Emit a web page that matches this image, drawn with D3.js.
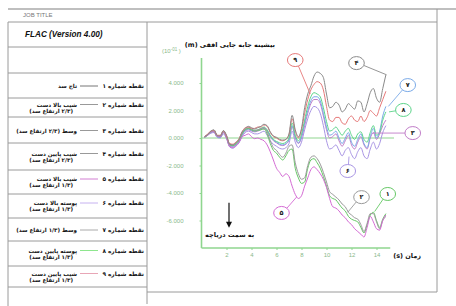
<!DOCTYPE html>
<html><head><meta charset="utf-8">
<script src="https://cdn.jsdelivr.net/npm/d3@7"></script>
<style>body{margin:0;background:#fff}svg{display:block}</style>
</head><body><svg id="c" width="456" height="306"></svg>
<script>
// ---------------- DATA ----------------
const times = [0.25,0.5,0.75,1,1.25,1.5,1.75,2,2.25,2.5,2.75,3,3.25,3.5,3.75,4,4.25,4.5,4.75,5,
  5.25,5.5,5.75,6,6.25,6.5,6.75,7,7.25,7.5,7.75,8,8.25,8.5,8.75,9,9.25,9.5,9.75,10,
  10.25,10.5,10.75,11,11.25,11.5,11.75,12,12.25,12.5,12.75,13,13.25,13.5,13.75,14,14.25,14.5,14.75];

const s1 = [0.1,0.25,0.45,0.55,0.15,0.1,0.5,0.1,-0.5,-0.55,
  -0.4,-0.15,0.35,0.6,0.7,0.6,0.5,0.55,0.6,0.65,
  0.3,-0.4,-0.9,-1.1,-1.4,-1.6,-1.3,-0.9,-0.8,-2.2,
  -2.9,-3.3,-3.2,-2.2,-1.6,-1.5,-1.8,-2.2,-2.8,-3.5,
  -4.2,-4.4,-4.5,-4.8,-5.1,-5.3,-5.7,-5.9,-6.0,-6.1,
  -6.5,-6.9,-6.3,-5.6,-5.4,-6.0,-6.5,-5.9,-5.5];
const s2 = [0.1,0.25,0.5,0.55,0.15,0.1,0.5,0.15,-0.45,-0.5,
  -0.35,-0.1,0.4,0.65,0.75,0.65,0.55,0.6,0.65,0.75,
  0.45,-0.2,-0.7,-0.9,-1.2,-1.4,-1.1,-0.6,-0.5,-1.8,
  -2.6,-3.0,-2.9,-2.0,-1.4,-1.3,-1.5,-1.9,-2.5,-3.2,
  -3.9,-4.1,-4.3,-4.5,-4.8,-5.0,-5.4,-5.6,-5.8,-5.9,
  -6.3,-6.8,-6.2,-5.5,-5.5,-6.1,-6.6,-6.0,-5.7];
const s3 = [0.05,0.2,0.4,0.45,0.1,0.05,0.4,0.0,-0.6,-0.65,
  -0.5,-0.3,0.2,0.5,0.6,0.5,0.45,0.5,0.6,0.7,
  0.5,0.1,-0.2,-0.35,-0.5,-0.55,-0.45,-0.15,0.8,0.0,
  -0.4,0.0,0.9,1.8,2.5,2.8,2.8,2.5,1.6,0.6,
  0.0,0.1,0.3,-0.2,-0.6,-0.2,0.2,-0.5,-0.8,-0.3,
  0.1,-0.5,-0.8,0.0,0.4,-0.1,0.3,0.9,1.3];
const s4 = [0.1,0.25,0.5,0.6,0.2,0.15,0.55,0.2,-0.45,-0.5,
  -0.35,-0.1,0.45,0.7,0.85,0.75,0.65,0.75,0.85,1.0,
  0.9,0.45,0.15,0.05,-0.1,-0.15,-0.1,0.3,1.65,0.6,
  0.1,0.7,2.2,3.2,3.8,4.5,4.8,4.7,4.4,3.2,
  2.2,2.3,2.6,2.4,1.9,2.1,2.5,2.3,2.1,2.7,
  2.6,1.9,2.5,3.3,3.6,2.9,2.6,3.6,4.6];
const s5 = [0.1,0.2,0.45,0.5,0.15,0.1,0.45,0.05,-0.6,-0.7,
  -0.55,-0.3,0.1,0.2,0.3,0.1,-0.05,0.0,-0.1,-0.2,
  -0.5,-1.0,-1.6,-2.2,-2.5,-2.8,-2.6,-2.8,-3.5,-4.1,
  -4.4,-4.2,-3.5,-2.9,-2.3,-2.1,-2.3,-2.6,-3.0,-3.6,
  -4.4,-5.0,-5.1,-5.3,-5.6,-5.8,-6.1,-6.3,-6.6,-6.8,
  -7.0,-7.2,-6.5,-5.7,-6.1,-6.6,-6.7,-6.0,-5.6];
const s6 = [0.05,0.2,0.35,0.4,0.05,0.0,0.3,-0.05,-0.65,-0.75,
  -0.6,-0.35,0.1,0.4,0.5,0.4,0.3,0.3,0.4,0.5,
  0.2,-0.2,-0.45,-0.6,-0.75,-0.8,-0.7,-0.4,0.5,-0.3,
  -0.7,-0.3,0.6,1.4,2.0,2.3,2.2,1.8,0.9,-0.2,
  -0.8,-0.7,-0.5,-0.9,-1.3,-0.9,-0.7,-1.2,-1.5,-1.0,
  -0.7,-1.3,-1.5,-0.8,-0.3,-0.8,-0.4,0.4,0.9];
const s7 = [0.1,0.25,0.4,0.5,0.1,0.05,0.4,0.05,-0.55,-0.6,
  -0.5,-0.25,0.25,0.55,0.65,0.55,0.5,0.55,0.65,0.75,
  0.55,0.15,-0.15,-0.3,-0.45,-0.5,-0.4,-0.1,0.9,0.1,
  -0.35,0.1,1.1,2.0,2.7,3.0,3.0,2.7,1.8,0.8,
  0.2,0.3,0.5,0.0,-0.4,0.0,0.4,-0.3,-0.6,-0.1,
  0.3,-0.4,-0.7,0.1,0.7,0.0,0.5,1.6,2.3];
const s8 = [0.05,0.2,0.45,0.5,0.15,0.1,0.45,0.1,-0.5,-0.55,
  -0.45,-0.2,0.3,0.6,0.7,0.6,0.55,0.6,0.7,0.8,
  0.6,0.2,-0.1,-0.25,-0.35,-0.4,-0.3,0.0,1.1,0.2,
  -0.2,0.3,1.3,2.3,3.0,3.3,3.2,3.0,2.2,1.2,
  0.5,0.6,0.8,0.5,0.2,0.5,0.7,0.2,-0.1,0.3,
  0.45,-0.1,-0.3,0.4,0.9,0.2,0.4,1.3,1.9];
const s9 = [0.1,0.3,0.5,0.55,0.2,0.2,0.5,0.15,-0.4,-0.45,
  -0.3,-0.05,0.45,0.75,0.8,0.7,0.7,0.8,0.8,0.95,
  0.85,0.4,0.1,0.0,-0.15,-0.2,-0.1,0.25,1.4,0.5,
  0.0,0.6,1.8,2.8,3.5,3.9,4.1,4.0,3.5,2.3,
  1.3,1.2,1.5,1.5,1.1,1.0,1.4,1.6,1.3,1.2,
  1.6,1.2,1.5,2.0,1.8,1.6,2.2,2.8,3.4];

const seriesIds = ["6","3","7","8","1","2","5","9","4"]; // drawing order
const seriesValues = {"1":s1,"2":s2,"3":s3,"4":s4,"5":s5,"6":s6,"7":s7,"8":s8,"9":s9};
const seriesColors = {"1":"#66c866","2":"#9a9a9a","3":"#c07cc8","4":"#8a8a8a","5":"#d46ad4",
  "6":"#a894e4","7":"#7aaae8","8":"#5cd48a","9":"#e67878"};

const yTicks = [4,2,0,-2,-4,-6];
const yTickLabels = ["4.000","2.000","0.000","-2.000","-4.000","-6.000"];
const xTicks = [2,4,6,8,10,12,14];
const xTickLabels = ["2","4","6","8","10","12","14"];

const persianDigits = ["۱","۲","۳","۴","۵","۶","۷","۸","۹"];
const legendDesc1 = ["تاج سد","شیب بالا دست","وسط (۲/۳ ارتفاع سد)","شیب پایین دست","شیب بالا دست",
  "پوسته بالا دست","وسط (۱/۳ ارتفاع سد)","پوسته پایین دست","شیب پایین دست"];
const legendDesc2 = ["","(۲/۳ ارتفاع سد)","","(۲/۳ ارتفاع سد)","(۱/۳ ارتفاع سد)",
  "(۱/۳ ارتفاع سد)","","(۱/۳ ارتفاع سد)","(۱/۳ ارتفاع سد)"];
const legendSwatch = ["#777","#999","#999","#999","#d27ed2","#c6b2f0","#aaa","#8ee68e","#e8a6b6"];

// annotation callouts (series id, label position, leader tip) in data units
const annoSeries = ["9","4","7","8","3","6","5","2","1"];
const annoLabelT = [7.5,12.4,16.5,16.15,16.9,11.7,6.4,12.8,14.9];
const annoLabelV = [5.67,5.45,3.85,2.04,0.36,-2.4,-5.45,-4.3,-4.07];
const annoTipT = [8.7,14.8,14.95,15.0,13.7,11.8,7.6,11.7,13.85];
const annoTipV = [3.2,4.6,2.3,1.9,0.36,-1.35,-4.3,-5.4,-5.35];

// ---------------- DRAW ----------------
const svg = d3.select("#c");
svg.append("rect").attr("width",456).attr("height",306).attr("fill","#fff");
const FA = "'DejaVu Sans', sans-serif";

function rtlText(g, str, xRight, y, size, weight, fill) {
  const t = g.append("text").attr("direction","rtl").attr("text-anchor","middle")
    .attr("y", y).attr("font-family", FA).attr("font-size", size)
    .attr("font-weight", weight || "normal").attr("fill", fill || "#111").text(str);
  const w = t.node().getComputedTextLength();
  t.attr("x", xRight - w/2);
  return t;
}

// frame
const frame = svg.append("g").attr("stroke","#9a9a9a").attr("fill","none");
frame.append("line").attr("x1",8).attr("x2",456).attr("y1",9).attr("y2",9).attr("stroke-width",1.6).attr("stroke","#aaa");
frame.append("line").attr("x1",8).attr("x2",437).attr("y1",22).attr("y2",22);
frame.append("line").attr("x1",8).attr("x2",8).attr("y1",22).attr("y2",306);
frame.append("line").attr("x1",147).attr("x2",147).attr("y1",22).attr("y2",304);
frame.append("line").attr("x1",437).attr("x2",437).attr("y1",9).attr("y2",292);
frame.append("line").attr("x1",147).attr("x2",437).attr("y1",292).attr("y2",292);
const rowLines = [47,73,98,117,143,170,194,218,241,266,287];
rowLines.forEach(y => frame.append("line").attr("x1",8).attr("x2",147).attr("y1",y).attr("y2",y));

svg.append("text").attr("x",23).attr("y",17).attr("font-family","'Liberation Sans',Arial,sans-serif")
  .attr("font-size",6).attr("fill","#777").text("JOB TITLE");
svg.append("text").attr("x",25).attr("y",37).attr("font-family","'Liberation Sans',Arial,sans-serif")
  .attr("font-size",8.2).attr("font-weight","bold").attr("font-style","italic").attr("fill","#111")
  .text("FLAC (Version 4.00)");

// legend rows
const rowTop = [73,98,117,143,170,194,218,241,266];
const rowBot = [98,117,143,170,194,218,241,266,287];
const leg = svg.append("g");
for (let i = 0; i < 9; i++) {
  const two = legendDesc2[i] !== "";
  const c = (rowTop[i] + rowBot[i]) / 2;
  const y1 = two ? c - 1 : c + 2.5;
  rtlText(leg, "نقطه شماره " + persianDigits[i], 144, y1, 5.8, "bold");
  leg.append("line").attr("x1",80).attr("x2",98).attr("y1",y1-2).attr("y2",y1-2)
    .attr("stroke",legendSwatch[i]).attr("stroke-width",1);
  rtlText(leg, legendDesc1[i], 77, y1, 5.6, "bold");
  if (two) rtlText(leg, legendDesc2[i], 73, y1 + 6.3, 5.6, "bold");
}

// chart scales
const x = d3.scaleLinear().domain([0,15]).range([201.5,389]);
const y = d3.scaleLinear().domain([-8,5.82]).range([248,58]);
const axisColor = "#8fd68f";
const tickColor = "#8ab98a";

const yAx = svg.append("g").attr("transform",`translate(${x(0)},0)`)
  .call(d3.axisLeft(y).tickValues(yTicks).tickFormat((d,i)=>yTickLabels[i]).tickSize(2).tickPadding(16));
const xAx = svg.append("g").attr("transform",`translate(0,${y(-8)})`)
  .call(d3.axisBottom(x).tickValues(xTicks).tickFormat((d,i)=>xTickLabels[i]).tickSize(2).tickPadding(3));
[yAx,xAx].forEach(a => {
  a.select(".domain").attr("stroke",axisColor).attr("stroke-width",1.6);
  a.selectAll(".tick line").attr("stroke",axisColor);
  a.selectAll(".tick text").attr("fill",tickColor).attr("font-size",6)
    .attr("font-family","'Liberation Sans',Arial,sans-serif");
});
yAx.select(".domain").attr("d",`M0,${y(5.82)}V${y(-8)}`);
xAx.select(".domain").attr("d",`M${x(0)},0H${x(15.1)}`);

// zero line
svg.append("line").attr("x1",x(0)).attr("x2",x(15.4)).attr("y1",y(0)).attr("y2",y(0))
  .attr("stroke",axisColor).attr("stroke-width",1.2);

// y unit label
const unit = svg.append("text").attr("x",162).attr("y",53).attr("fill",tickColor)
  .attr("font-size",6).attr("font-family","'Liberation Sans',Arial,sans-serif");
unit.append("tspan").text("(10");
unit.append("tspan").attr("dy",-2.5).attr("font-size",4.5).text("-01");
unit.append("tspan").attr("dy",2.5).text("  )");

// title
rtlText(svg, "بیشینه جابه جایی افقی (m)", 275, 47, 6.5, "bold");
// x label
rtlText(svg, "زمان (s)", 421, 258, 6.5, "bold");

// series
const line = d3.line().x((d,i)=>x(times[i])).y(d=>y(d)).curve(d3.curveMonotoneX);
const lg = svg.append("g").attr("fill","none");
seriesIds.forEach(id => {
  lg.append("path").datum(seriesValues[id]).attr("d", line)
    .attr("stroke", seriesColors[id]).attr("stroke-width",1).attr("stroke-linejoin","round");
});

// callouts
const ag = svg.append("g");
annoSeries.forEach((id,i) => {
  const cx = x(annoLabelT[i]), cy = y(annoLabelV[i]);
  const tx = x(annoTipT[i]), ty = y(annoTipV[i]);
  const col = seriesColors[id];
  const rx = 7.8, ry = 6.5;
  const ang = Math.atan2(ty-cy, tx-cx);
  ag.append("line").attr("x1",cx+rx*Math.cos(ang)).attr("y1",cy+ry*Math.sin(ang))
    .attr("x2",tx).attr("y2",ty).attr("stroke",col).attr("stroke-width",0.9);
  ag.append("ellipse").attr("cx",cx).attr("cy",cy).attr("rx",rx).attr("ry",ry)
    .attr("fill","#fff").attr("stroke",col).attr("stroke-width",1);
  ag.append("text").attr("x",cx).attr("y",cy+2.3).attr("text-anchor","middle")
    .attr("font-family",FA).attr("font-size",6.5).attr("font-weight","bold").attr("fill","#222")
    .text(persianDigits[+id-1]);
});

// arrow toward reservoir
const ax0 = x(2.2), ay0 = y(-4.7), ay1 = y(-6.45);
svg.append("line").attr("x1",ax0).attr("x2",ax0).attr("y1",ay0).attr("y2",ay1-4)
  .attr("stroke","#111").attr("stroke-width",1.2);
svg.append("path").attr("d",`M${ax0-3},${ay1-5}L${ax0+3},${ay1-5}L${ax0},${ay1+1}Z`).attr("fill","#111");
svg.append("text").attr("direction","rtl").attr("text-anchor","middle")
  .attr("x",x(2.25)).attr("y",y(-7.2)).attr("font-family",FA).attr("font-size",6.5)
  .attr("font-weight","bold").attr("fill","#111").text("به سمت دریاچه");
</script></body></html>
